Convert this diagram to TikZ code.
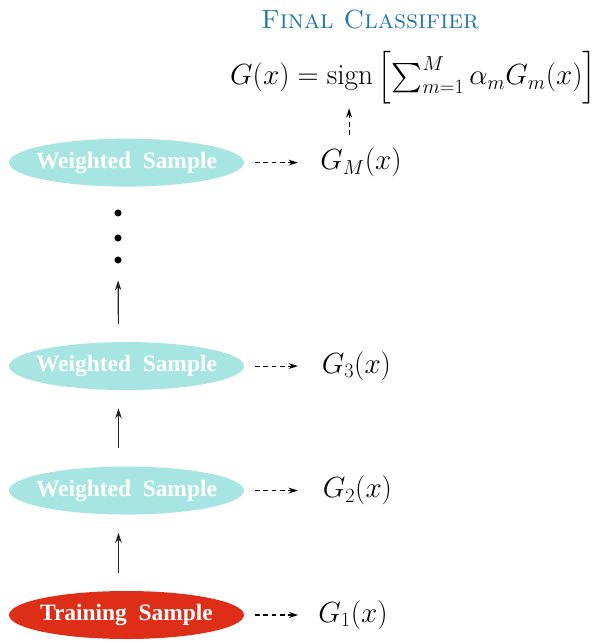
\documentclass[tikz,border=0pt]{standalone}
\usepackage{amsmath,amssymb}
\usepackage{fontspec}
\newfontfamily\samplefont{Liberation Serif}
\usepackage{tikz}
\usetikzlibrary{
  shapes.geometric,
  arrows.meta,
  positioning, calc
}
\definecolor{samplecyan}{RGB}{167,229,226}
\definecolor{trainred}{RGB}{222,46,24}
\definecolor{titleblue}{RGB}{31,119,180}
\tikzset{
  basell/.style={ellipse,inner sep=0pt,inner xsep=-0.7cm,minimum width=7.05cm,minimum height=1.44cm,
    text=white,font=\samplefont\bfseries\fontsize{20}{24}\selectfont},
  wnode/.style={basell,fill=samplecyan},
  trainnode/.style={basell,fill=trainred},
  gnode/.style={inner sep=0pt,font=\fontsize{25.5}{30}\selectfont},
  dotnode/.style={circle,fill=black,inner sep=0pt,minimum size=6pt},
  arr/.style={-{Stealth[length=8.5pt,width=5.5pt]},line width=1pt,color=black!85,shorten <=0.54cm,shorten >=0.54cm},
  dasharr/.style={-{Stealth[length=8pt,width=5pt]},line width=0.9pt,dash pattern=on 4pt off 3pt,color=black}
}

\begin{document}
\begin{tikzpicture}
  \useasboundingbox (0,0) rectangle (17.85,-19.26);

  \node[trainnode] (train) at (3.795,-18.45) {Training\ \ Sample};
  \node[wnode,above=2.28cm of train] (w2) {Weighted\ \ Sample};
  \node[wnode,above=2.28cm of w2] (w3) {Weighted\ \ Sample};
  \node[wnode,above=4.65cm of w3] (wM) {Weighted\ \ Sample};

  \foreach \i/\y in {1/-6.39,2/-7.14,3/-7.80}
    \node[dotnode] (dot\i) at (3.54,\y) {};

  \node[gnode,right=2.22cm of train] (g1) {$G_1(x)$};
  \node[gnode,right=2.35cm of w2] (g2) {$G_2(x)$};
  \node[gnode,right=2.32cm of w3] (g3) {$G_3(x)$};
  \node[gnode,right=2.28cm of wM] (gM) {$G_M(x)$};

  \node[gnode,font=\fontsize{25}{30}\selectfont] (final) at (12.40,-2.33)
    {$G(x) = \operatorname{sign}\left[\sum_{m=1}^{M}\alpha_m G_m(x)\right]$};
  \node[inner sep=0pt,font=\fontsize{22.5}{27}\selectfont,color=titleblue] (title) at (11.1,-0.57) {\textsc{Final Classifier}};

  \draw[arr] ([xshift=-0.24cm]train.north) -- ([xshift=-0.24cm]w2.south);
  \draw[arr] ([xshift=-0.24cm]w2.north) -- ([xshift=-0.24cm]w3.south);
  \draw[arr,shorten >=0.5cm] ([xshift=-0.24cm]w3.north) -- (dot3);

  \draw[dasharr,shorten <=0.33cm,shorten >=0.6cm] (train) -- (g1);
  \draw[dasharr,shorten <=0.33cm,shorten >=0.74cm] (w2) -- (g2);
  \draw[dasharr,shorten <=0.33cm,shorten >=0.71cm] (w3) -- (g3);
  \draw[dasharr,shorten <=0.33cm,shorten >=0.67cm] (wM) -- (gM);

  \coordinate (up) at ([xshift=-0.36cm]gM.north);
  \draw[dasharr,shorten <=0.39cm,shorten >=0.12cm] (up) -- (up |- final.south);
\end{tikzpicture}
\end{document}
